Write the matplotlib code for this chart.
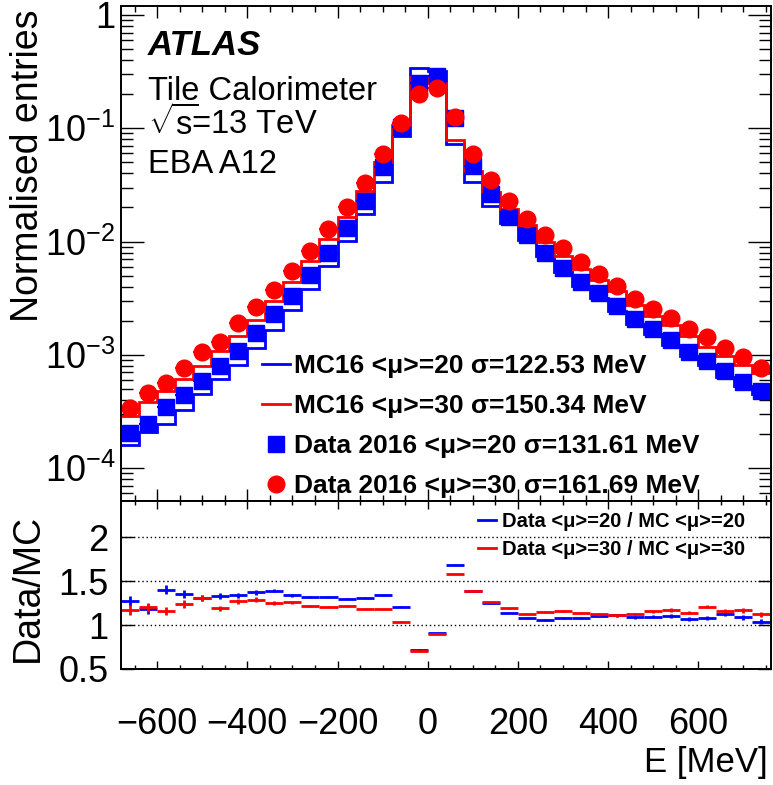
import numpy as np
import matplotlib
matplotlib.use("Agg")
import matplotlib.pyplot as plt
from matplotlib.lines import Line2D
from matplotlib.ticker import LogLocator, FixedLocator, MultipleLocator, NullFormatter, FuncFormatter

plt.rcParams['font.family'] = ['Liberation Sans', 'DejaVu Sans']
plt.rcParams['mathtext.fontset'] = 'custom'
plt.rcParams['mathtext.rm'] = 'Liberation Sans'
plt.rcParams['mathtext.it'] = 'Liberation Sans:italic'
plt.rcParams['mathtext.bf'] = 'Liberation Sans:bold'

# -----------------------------
# Data (bin centres in MeV, 40 MeV bins)
# -----------------------------
centres = [-660, -620, -580, -540, -500, -460, -420, -380, -340, -300, -260, -220,
           -180, -140, -100, -60, -20, 20, 60, 100, 140, 180, 220, 260,
           300, 340, 380, 420, 460, 500, 540, 580, 620, 660, 700, 740]

mc20 = [1.60e-4, 2.07e-4, 2.47e-4, 3.25e-4, 4.50e-4, 6.08e-4, 8.1e-4, 1.14e-3, 1.65e-3, 2.49e-3, 3.84e-3, 6.05e-3,
        0.0101, 0.0174, 0.0337, 0.085, 0.342, 0.319, 0.0727, 0.0334, 0.0207, 0.0145, 0.0104, 7.4e-3,
        5.35e-3, 4.05e-3, 3.17e-3, 2.44e-3, 1.89e-3, 1.53e-3, 1.23e-3, 9.7e-4, 8.2e-4, 6.4e-4, 5.3e-4, 4.5e-4]

mc30 = [2.9e-4, 3.82e-4, 4.75e-4, 6.12e-4, 8.0e-4, 1.09e-3, 1.48e-3, 2.05e-3, 2.99e-3, 4.40e-3, 6.77e-3, 0.01058,
        0.0166, 0.0277, 0.050, 0.1064, 0.285, 0.252, 0.079, 0.042, 0.0276, 0.0193, 0.0140, 9.9e-3,
        7.5e-3, 5.75e-3, 4.6e-3, 3.65e-3, 2.76e-3, 2.2e-3, 1.82e-3, 1.48e-3, 1.18e-3, 9.8e-4, 8.1e-4, 6.9e-4]

data20 = [2.03e-4, 2.45e-4, 3.49e-4, 4.43e-4, 5.89e-4, 8.04e-4, 1.08e-3, 1.57e-3, 2.28e-3, 3.33e-3, 5.07e-3, 7.98e-3,
          0.0131, 0.0228, 0.0452, 0.103, 0.249, 0.290, 0.1225, 0.0468, 0.0261, 0.0166, 0.0114, 7.88e-3,
          5.81e-3, 4.43e-3, 3.50e-3, 2.70e-3, 2.06e-3, 1.68e-3, 1.35e-3, 1.05e-3, 8.9e-4, 7.2e-4, 5.8e-4, 4.8e-4]

data30 = [3.42e-4, 4.58e-4, 5.61e-4, 7.62e-4, 1.05e-3, 1.31e-3, 1.90e-3, 2.66e-3, 3.74e-3, 5.54e-3, 8.26e-3, 0.0128,
          0.0203, 0.0327, 0.059, 0.1107, 0.1995, 0.2255, 0.125, 0.059, 0.035, 0.0230, 0.0158, 0.0114,
          8.73e-3, 6.56e-3, 5.14e-3, 4.06e-3, 3.11e-3, 2.54e-3, 2.13e-3, 1.69e-3, 1.43e-3, 1.14e-3, 9.5e-4, 7.7e-4]

ratio20 = [1.27, 1.18, 1.40, 1.35, 1.31, 1.33, 1.34, 1.37, 1.39, 1.34, 1.32, 1.32,
           1.30, 1.31, 1.34, 1.21, 0.72, 0.91, 1.685, 1.39, 1.25, 1.14, 1.08, 1.06,
           1.08, 1.08, 1.10, 1.11, 1.09, 1.095, 1.10, 1.07, 1.075, 1.125, 1.09, 1.04]
ratio30 = [1.17, 1.20, 1.16, 1.24, 1.31, 1.19, 1.27, 1.29, 1.25, 1.26, 1.22, 1.21,
           1.22, 1.18, 1.18, 1.04, 0.70, 0.90, 1.58, 1.39, 1.26, 1.19, 1.13, 1.15,
           1.155, 1.14, 1.12, 1.11, 1.125, 1.155, 1.17, 1.14, 1.21, 1.16, 1.17, 1.12]
ratio_err = [0.055, 0.05, 0.05, 0.045, 0.035, 0.03, 0.028, 0.024, 0.02, 0.016, 0.012, 0.01,
             0.008, 0.006, 0.005, 0.004, 0.003, 0.003, 0.004, 0.005, 0.006, 0.008, 0.01, 0.01,
             0.012, 0.012, 0.014, 0.015, 0.016, 0.018, 0.02, 0.02, 0.022, 0.025, 0.028, 0.03]

labels_top = ["MC16 <\u03bc>=20 \u03c3=122.53 MeV",
              "MC16 <\u03bc>=30 \u03c3=150.34 MeV",
              "Data 2016 <\u03bc>=20 \u03c3=131.61 MeV",
              "Data 2016 <\u03bc>=30 \u03c3=161.69 MeV"]
labels_ratio = ["Data <\u03bc>=20 / MC <\u03bc>=20",
                "Data <\u03bc>=30 / MC <\u03bc>=30"]

BLUE = (0, 0, 1)
RED = (1, 0, 0)
half_bin = 20
x_range = (-680, 760)

W, H = 773, 785
fig = plt.figure(figsize=(W / 100, H / 100), dpi=100)

left, right = 121, 770.5
top1, mid, bot2 = 5.7, 501, 669
ax1 = fig.add_axes([left / W, 1 - mid / H, (right - left) / W, (mid - top1) / H])
ax2 = fig.add_axes([left / W, 1 - bot2 / H, (right - left) / W, (bot2 - mid) / H])

c = np.array(centres)
edges = np.append(c - half_bin, c[-1] + half_bin)

# -----------------------------
# Top panel
# -----------------------------
ax1.stairs(mc20, edges, color=BLUE, lw=2.0, baseline=None)
ax1.stairs(mc30, edges, color=RED, lw=2.0, baseline=None)
ax1.errorbar(c, data20, xerr=half_bin, fmt='s', color=BLUE, ms=11, elinewidth=1.5, capsize=0)
ax1.errorbar(c, data30, xerr=half_bin, fmt='o', color=RED, ms=12, elinewidth=1.5, capsize=0)

ax1.set_yscale('log')
ax1.set_xlim(*x_range)
ax1.set_ylim(5.13e-5, 1.208)

def log_fmt(v, pos):
    e = int(round(np.log10(v)))
    if e == 0:
        return "1"
    return r"$10^{%d}$" % e

ax1.yaxis.set_major_locator(LogLocator(base=10, numticks=10))
ax1.yaxis.set_minor_locator(LogLocator(base=10, subs=np.arange(2, 10), numticks=20))
ax1.yaxis.set_major_formatter(FuncFormatter(log_fmt))
ax1.yaxis.set_minor_formatter(NullFormatter())
ax1.xaxis.set_major_locator(MultipleLocator(200))
ax1.xaxis.set_minor_locator(MultipleLocator(50))
ax1.tick_params(axis='x', labelbottom=False)

for ax in (ax1, ax2):
    ax.tick_params(which='both', direction='in', top=True, right=True, width=1.0)
    for s in ax.spines.values():
        s.set_linewidth(1.4)

ax1.tick_params(axis='x', which='major', length=8.5)
ax1.tick_params(axis='x', which='minor', length=4.3)
ax1.tick_params(axis='y', which='major', length=16.5, labelsize=26, pad=4)
ax1.tick_params(axis='y', which='minor', length=8.5)

handles = [Line2D([], [], color=BLUE, lw=2.0),
           Line2D([], [], color=RED, lw=2.0),
           Line2D([], [], color=BLUE, marker='s', ls='none', ms=11),
           Line2D([], [], color=RED, marker='o', ls='none', ms=12)]
ax1.legend(handles, labels_top, loc='upper left', bbox_to_anchor=(262 / W, 1 - 354 / H),
           bbox_transform=fig.transFigure, frameon=False, borderpad=0, borderaxespad=0,
           handlelength=1.06, handletextpad=0.15, labelspacing=0.61,
           prop={'weight': 'bold', 'size': 19})

fig.text(148 / W, 1 - 55 / H, "ATLAS", weight='bold', style='italic', size=25, va='baseline')
fig.text(148 / W, 1 - 100 / H, "Tile Calorimeter", size=23.5, va='baseline')
fig.text(148 / W, 1 - 135 / H, r"$\sqrt{\mathrm{s}}\!$=13 TeV", size=23.5, va='baseline')
fig.text(148 / W, 1 - 173 / H, "EBA A12", size=23.5, va='baseline')

fig.text(28 / W, 1 - 10 / H, "Normalised entries", rotation=90, size=27, ha='center', va='top')

# -----------------------------
# Ratio panel
# -----------------------------
for lvl in (1.0, 1.5, 2.0):
    ax2.axhline(lvl, color='black', ls=(0, (1, 2)), lw=1.0)

ax2.errorbar(c, ratio20, xerr=half_bin, yerr=ratio_err, fmt='none', ecolor=BLUE, elinewidth=2.0, capsize=0)
ax2.errorbar(c, ratio30, xerr=half_bin, yerr=ratio_err, fmt='none', ecolor=RED, elinewidth=2.0, capsize=0)

ax2.set_xlim(*x_range)
ax2.set_ylim(0.5, 2.41)
ax2.yaxis.set_major_locator(FixedLocator([0.5, 1, 1.5, 2]))
ax2.yaxis.set_major_formatter(FuncFormatter(lambda v, p: "%g" % v))
ax2.xaxis.set_major_locator(MultipleLocator(200))
ax2.xaxis.set_minor_locator(MultipleLocator(50))
ax2.xaxis.set_major_formatter(FuncFormatter(lambda v, p: "%d" % v if v >= 0 else "\u2212%d" % -v))
ax2.tick_params(axis='x', which='major', length=6, labelsize=26, pad=27)
ax2.tick_params(axis='x', which='minor', length=3)
ax2.tick_params(axis='y', which='major', length=9.4, labelsize=26, pad=9)

rhandles = [Line2D([], [], color=BLUE, lw=2.0), Line2D([], [], color=RED, lw=2.0)]
ax2.legend(rhandles, labels_ratio, loc='upper left', bbox_to_anchor=(478 / W, 1 - 512 / H),
           bbox_transform=fig.transFigure, frameon=False, borderpad=0, borderaxespad=0,
           handlelength=0.9, handletextpad=0.3, labelspacing=0.47,
           prop={'weight': 'bold', 'size': 14.5})

fig.text(28 / W, 1 - 588 / H, "Data/MC", rotation=90, size=27, ha='center', va='center')
fig.text(768 / W, 1 - 772 / H, "E [MeV]", size=25, ha='right', va='baseline')

fig.savefig("out.png", dpi=100)
